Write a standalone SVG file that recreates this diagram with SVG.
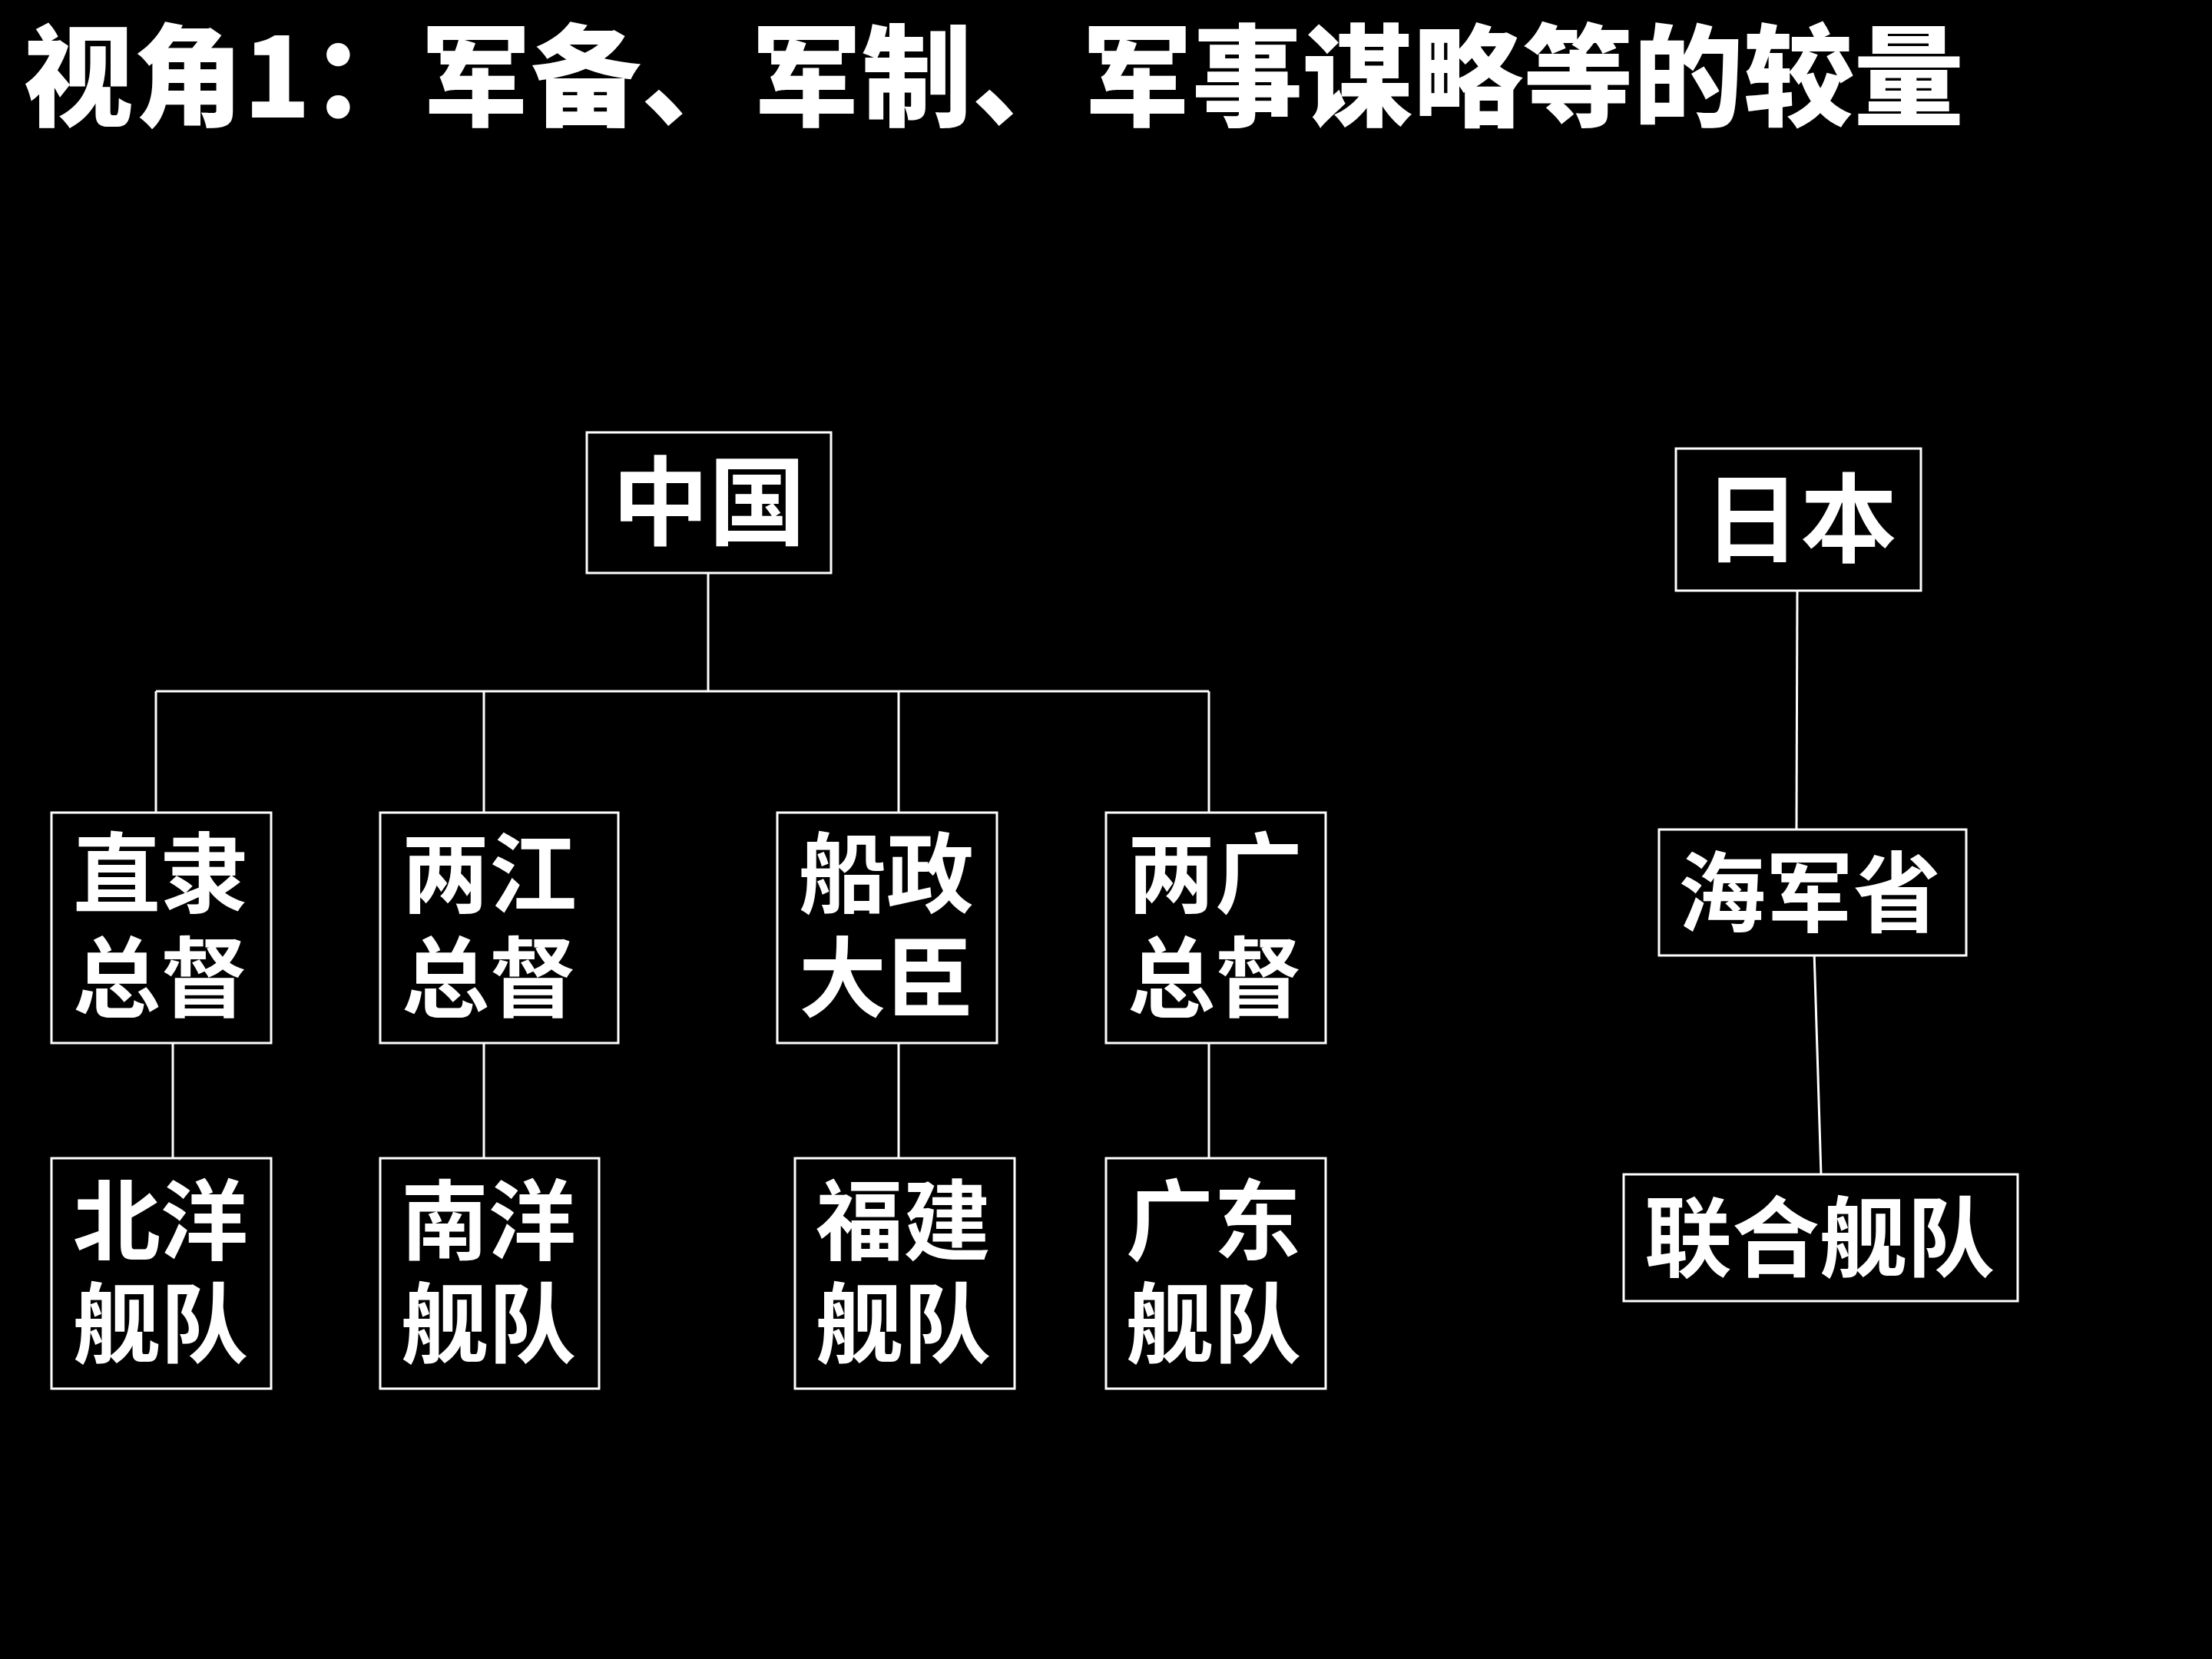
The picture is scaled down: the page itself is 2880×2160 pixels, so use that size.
<svg xmlns="http://www.w3.org/2000/svg" width="2880" height="2160" viewBox="0 0 2880 2160">
<style>
.box{fill:#000;stroke:#fff;stroke-width:3}
.ln{stroke:#fff;stroke-width:3;fill:none}
.t{fill:#fff;font-family:"Noto Sans CJK SC","Noto Sans CJK JP",sans-serif;font-weight:bold;text-anchor:middle}
.s{font-size:114px}
.b{font-size:126px}
.title{fill:#fff;font-family:"Noto Sans CJK SC",sans-serif;font-weight:900;font-size:144px}
</style>
<rect width="2880" height="2160" fill="#000"/>
<text class="title" x="30" y="153" textLength="2527" lengthAdjust="spacingAndGlyphs">视角1：军备、军制、军事谋略等的较量</text>
<g id="connectors">
<line class="ln" x1="922" y1="746" x2="922" y2="900"/>
<line class="ln" x1="203" y1="900" x2="1574" y2="900"/>
<line class="ln" x1="203" y1="900" x2="203" y2="1058"/>
<line class="ln" x1="630" y1="900" x2="630" y2="1058"/>
<line class="ln" x1="1170" y1="900" x2="1170" y2="1058"/>
<line class="ln" x1="1574" y1="900" x2="1574" y2="1058"/>
<line class="ln" x1="225" y1="1350" x2="225" y2="1508"/>
<line class="ln" x1="630" y1="1350" x2="630" y2="1508"/>
<line class="ln" x1="1170" y1="1350" x2="1170" y2="1508"/>
<line class="ln" x1="1574" y1="1350" x2="1574" y2="1508"/>
<line class="ln" x1="2340" y1="766" x2="2339" y2="1080"/>
<line class="ln" x1="2362" y1="1238" x2="2371" y2="1529"/>
</g>
<g id="china">
<rect class="box" x="764" y="563" width="318" height="183"/>
<text class="t b" x="923" y="700">中国</text>
</g>
<g id="zhili">
<rect class="box" x="67" y="1058" width="286" height="300"/>
<text class="t s"><tspan x="209" y="1179">直隶</tspan><tspan x="209" y="1315">总督</tspan></text>
</g>
<g id="liangjiang">
<rect class="box" x="495" y="1058" width="310" height="300"/>
<text class="t s"><tspan x="637" y="1179">两江</tspan><tspan x="637" y="1315">总督</tspan></text>
</g>
<g id="chuanzheng">
<rect class="box" x="1012" y="1058" width="286" height="300"/>
<text class="t s"><tspan x="1154" y="1179">船政</tspan><tspan x="1154" y="1315">大臣</tspan></text>
</g>
<g id="lianguang">
<rect class="box" x="1440" y="1058" width="286" height="300"/>
<text class="t s"><tspan x="1582" y="1179">两广</tspan><tspan x="1582" y="1315">总督</tspan></text>
</g>
<g id="beiyang">
<rect class="box" x="67" y="1508" width="286" height="300"/>
<text class="t s"><tspan x="209" y="1631">北洋</tspan><tspan x="209" y="1765">舰队</tspan></text>
</g>
<g id="nanyang">
<rect class="box" x="495" y="1508" width="285" height="300"/>
<text class="t s"><tspan x="636" y="1631">南洋</tspan><tspan x="636" y="1765">舰队</tspan></text>
</g>
<g id="fujian">
<rect class="box" x="1035" y="1508" width="286" height="300"/>
<text class="t s"><tspan x="1176" y="1631">福建</tspan><tspan x="1176" y="1765">舰队</tspan></text>
</g>
<g id="guangdong">
<rect class="box" x="1440" y="1508" width="286" height="300"/>
<text class="t s"><tspan x="1580" y="1631">广东</tspan><tspan x="1580" y="1765">舰队</tspan></text>
</g>
<g id="japan">
<rect class="box" x="2182" y="584" width="319" height="185"/>
<text class="t b" x="2344" y="722">日本</text>
</g>
<g id="haijunsheng">
<rect class="box" x="2160" y="1080" width="400" height="164"/>
<text class="t s" x="2356" y="1204">海军省</text>
</g>
<g id="lianhe">
<rect class="box" x="2114" y="1529" width="513" height="165"/>
<text class="t s" x="2369" y="1653">联合舰队</text>
</g>
</svg>
